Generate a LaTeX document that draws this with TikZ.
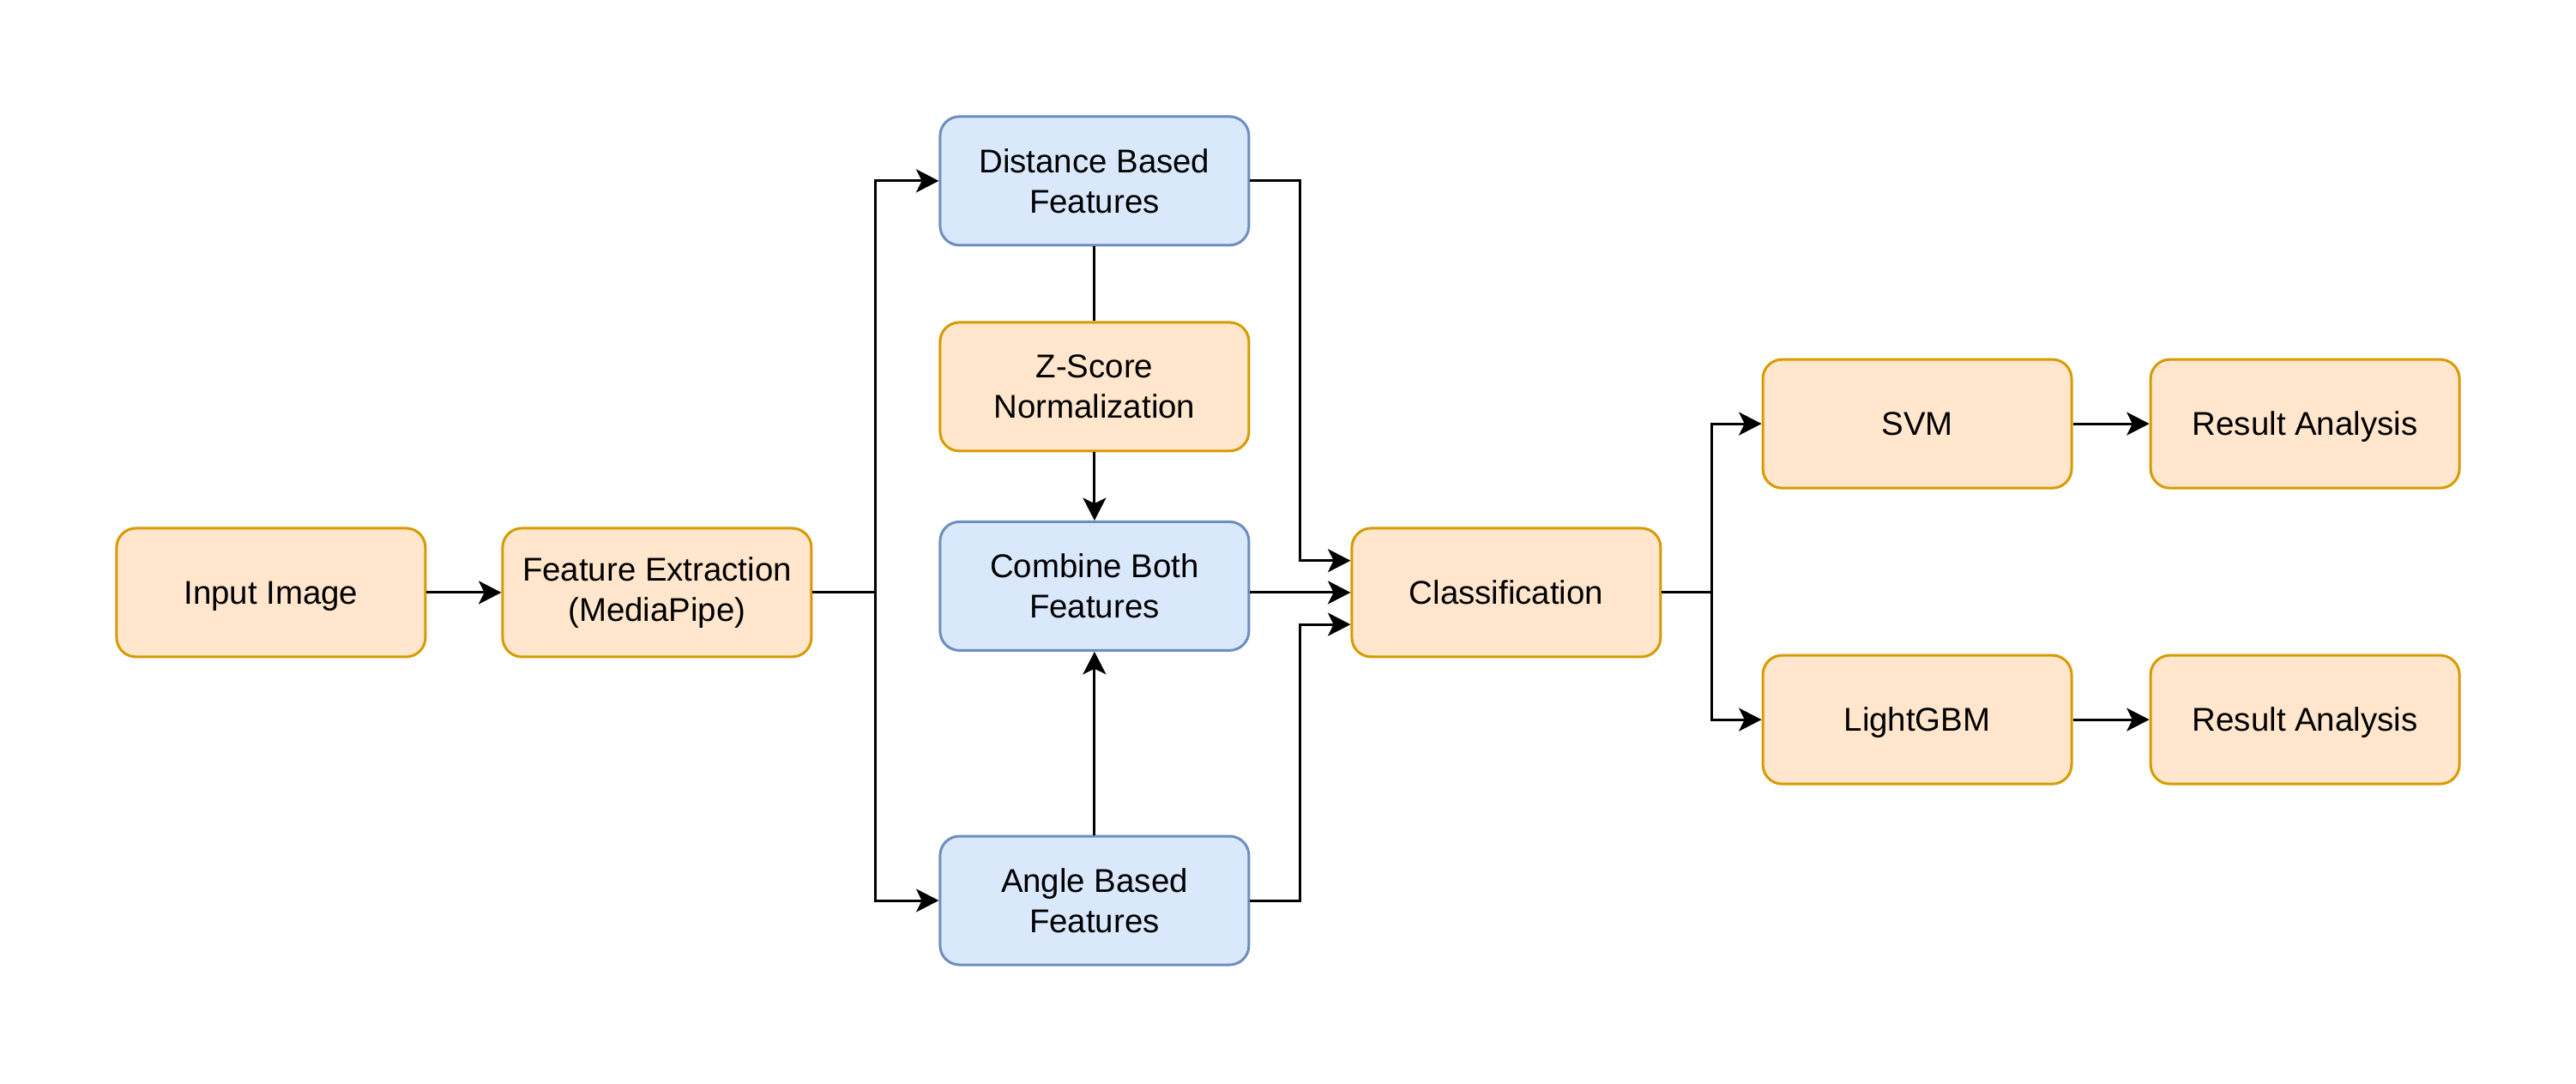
\documentclass[tikz,border=0pt]{standalone}
\usepackage{fontspec}
\setmainfont{Liberation Sans}
\usetikzlibrary{arrows.meta,calc}
\definecolor{ofill}{HTML}{FFE6CC}
\definecolor{odraw}{HTML}{D79B00}
\definecolor{bfill}{HTML}{DAE8FC}
\definecolor{bdraw}{HTML}{6C8EBF}
\tikzset{
  box/.style={rectangle, rounded corners=7.5pt, minimum width=120pt, minimum height=50pt,
    inner sep=0pt, align=center, line width=1pt, font=\fontsize{12.8}{15.6}\selectfont},
  obox/.style={box, fill=ofill, draw=odraw},
  bbox/.style={box, fill=bfill, draw=bdraw},
  oneline/.style={text height=10.8pt, text depth=1.8pt},
  conn/.style={line width=1pt, draw=black},
  arr/.style={conn, -{Stealth[length=8.8pt, width=9pt, inset=2.2pt]}}
}
\begin{document}
\begin{tikzpicture}[x=1pt,y=-1pt]
\useasboundingbox (0,0) rectangle (1001,421);
\node[obox,oneline] (in) at (105.3,230.3) {Input Image};
\node[obox] (fe) at (255.3,230.3) {Feature Extraction\\(MediaPipe)};
\node[bbox] (dist) at (425.3,70.3) {Distance Based\\Features};
\node[obox] (z) at (425.3,150.3) {Z-Score\\Normalization};
\node[bbox] (comb) at (425.3,227.8) {Combine Both\\Features};
\node[bbox] (ang) at (425.3,350) {Angle Based\\Features};
\node[obox,oneline] (cl) at (585.3,230.3) {Classification};
\node[obox,oneline] (svm) at (745,164.7) {SVM};
\node[obox,oneline] (lgb) at (745,279.7) {LightGBM};
\node[obox,oneline] (r1) at (895.7,164.7) {Result Analysis};
\node[obox,oneline] (r2) at (895.7,279.7) {Result Analysis};
\coordinate (lb) at (340,230.3);
\coordinate (rb) at (505.3,230.3);
\coordinate (sb) at (665,230.3);
\coordinate (cl1) at ([yshift=12.4pt]cl.west);
\coordinate (cl3) at ([yshift=-12.4pt]cl.west);
\draw[arr] (in) -- (fe);
\draw[conn] (fe.east) -- (lb);
\draw[arr] (lb) |- (dist.west);
\draw[arr] (lb) |- (ang.west);
\draw[conn] (dist.south) -- (z.north);
\draw[arr] (z.south) -- (comb.north);
\draw[arr] (ang.north) -- (comb.south);
\draw[arr] (dist.east) -- (dist.east -| rb) |- (cl1);
\draw[arr] (ang.east) -- (ang.east -| rb) |- (cl3);
\draw[arr] (comb.east |- cl.west) -- (cl.west);
\draw[conn] (cl.east) -- (sb);
\draw[arr] (sb) |- (svm.west);
\draw[arr] (sb) |- (lgb.west);
\draw[arr] (svm) -- (r1);
\draw[arr] (lgb) -- (r2);
\end{tikzpicture}
\end{document}
